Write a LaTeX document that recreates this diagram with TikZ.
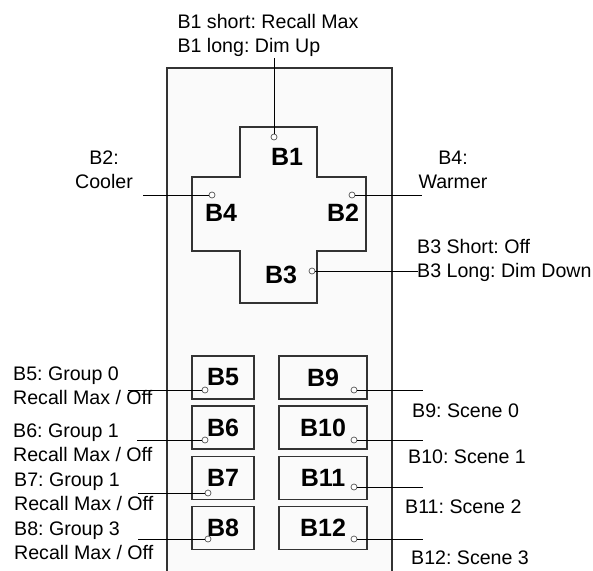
\documentclass[tikz,border=0pt]{standalone}
\usepackage{fontspec}
\setmainfont{Liberation Sans}
\usetikzlibrary{positioning}
\definecolor{edge}{HTML}{333333}
\definecolor{panel}{HTML}{FAFAFA}
\definecolor{pinc}{HTML}{555555}
\frenchspacing

\begin{document}
\begin{tikzpicture}[
  x=1pt, y=-1pt,
  key/.style={rectangle, draw=edge, line width=1.6pt, fill=panel,
              minimum height=43pt, inner sep=0pt,
              font=\fontsize{25}{28}\selectfont\bfseries},
  tag/.style={inner sep=0pt, font=\fontsize{25}{28}\selectfont\bfseries},
  note/.style={inner sep=0pt, font=\fontsize{19.6}{24}\selectfont},
  pin/.style={circle, draw=pinc, fill=white, line width=0.7pt,
              minimum size=6pt, inner sep=0pt},
  lead/.style={draw=black, line width=0.8pt},
]
\useasboundingbox (0,0) rectangle (593,570);

% housing and cross
\draw[edge, line width=1.4pt, fill=panel] (167,68) rectangle (392,580);
\draw[edge, line width=1.8pt] (240,127) -- (317,127) -- (317,177) -- (366,177)
  -- (366,251) -- (317,251) -- (317,303) -- (240,303) -- (240,251)
  -- (192,251) -- (192,177) -- (240,177) -- cycle;

\node[tag] (b1) at (287,157) {B1};
\node[tag] (b4) at (221,213) {B4};
\node[tag] (b2) at (343,213) {B2};
\node[tag] (b3) at (281,275) {B3};

% lower keys
\node[key, minimum width=62pt] (b5) at (223,377.5) {B5};
\node[key, minimum width=62pt] (b6) at (223,427.5) {B6};
\node[key, minimum width=62pt] (b7) at (223,478) {B7};
\node[key, minimum width=62pt] (b8) at (223,528) {B8};
\node[key, minimum width=88pt] (b9)  at (323,377.5) {B9};
\node[key, minimum width=88pt] (b10) at (323,427.5) {B10};
\node[key, minimum width=88pt] (b11) at (323,478) {B11};
\node[key, minimum width=88pt] (b12) at (323,528) {B12};

% descriptions
\node[note, align=left] (t1) at (268,35) {B1 short: Recall Max\\B1 long: Dim Up};
\node[note, align=center] (t4) at (104,170) {B2:\\Cooler};
\node[note, align=center] (t2) at (453,170) {B4:\\Warmer};
\node[note, align=left, anchor=west] (t3) at (417,260) {B3 Short: Off\\B3 Long: Dim Down};
\node[note, align=left, anchor=west] (t5) at (13,386) {B5: Group 0\\Recall Max / Off};
\node[note, align=left, anchor=west] (t6) at (13,443) {B6: Group 1\\Recall Max / Off};
\node[note, align=left, anchor=west] (t7) at (14,492) {B7: Group 1\\Recall Max / Off};
\node[note, align=left, anchor=west] (t8) at (14,541) {B8: Group 3\\Recall Max / Off};
\node[note, anchor=west] (t9)  at (412,411) {B9: Scene 0};
\node[note, anchor=west] (t10) at (408,457) {B10: Scene 1};
\node[note, anchor=west] (t11) at (405,507) {B11: Scene 2};
\node[note, anchor=west] (t12) at (411,558) {B12: Scene 3};

% contact points
\node[pin] (p1) at (274,137) {};
\node[pin] (p4) at (212,195) {};
\node[pin] (p2) at (352,195) {};
\node[pin] (p3) at (312,271) {};
\node[pin] (p5) at (205,390) {};
\node[pin] (p6) at (205,440) {};
\node[pin] (p7) at (208,493) {};
\node[pin] (p8) at (208,539) {};
\node[pin] (p9)  at (354,390) {};
\node[pin] (p10) at (354,440) {};
\node[pin] (p11) at (354,487) {};
\node[pin] (p12) at (354,539) {};

% lead ends
\coordinate (e1) at (274,58);
\coordinate (e4) at (143,195);
\coordinate (e2) at (422,195);
\coordinate (e3) at (418,271);
\coordinate (e5) at (128,390);
\coordinate (e6) at (137,440);
\coordinate (e7) at (138,493);
\coordinate (e8) at (138,539);
\coordinate (e9)  at (423,390);
\coordinate (e10) at (423,440);
\coordinate (e11) at (423,487);
\coordinate (e12) at (423,539);

\draw[lead] (p1) -- (e1);
\draw[lead] (p4) -- (e4);
\draw[lead] (p2) -- (e2);
\draw[lead] (p3) -- (e3);
\draw[lead] (p5) -- (e5);
\draw[lead] (p6) -- (e6);
\draw[lead] (p7) -- (e7);
\draw[lead] (p8) -- (e8);
\draw[lead] (p9) -- (e9);
\draw[lead] (p10) -- (e10);
\draw[lead] (p11) -- (e11);
\draw[lead] (p12) -- (e12);
\end{tikzpicture}
\end{document}
